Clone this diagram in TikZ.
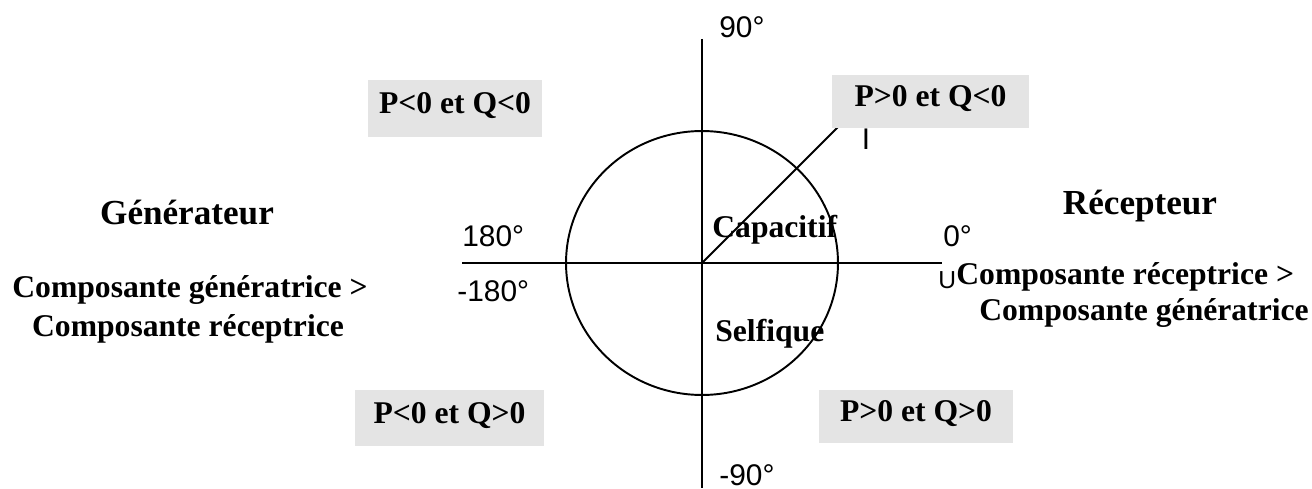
\documentclass[tikz,border=0pt]{standalone}
\usepackage{fontspec}
\setmainfont{Liberation Serif}
\setsansfont{Liberation Sans}
\usetikzlibrary{positioning}
\definecolor{quadgray}{gray}{0.895}

\begin{document}
\begin{tikzpicture}[x=0.02cm, y=-0.02cm,
    quad/.style={fill=quadgray, minimum height=1.1cm, inner sep=0pt,
                 font=\fontsize{18}{22}\selectfont\bfseries,
                 text height=0.42cm, text depth=0.2cm},
    side/.style={inner sep=0pt, anchor=base, font=\fontsize{18}{22}\selectfont\bfseries},
    title/.style={side, font=\fontsize{20}{24}\selectfont\bfseries},
    zone/.style={side, anchor=base west},
    deg/.style={inner sep=0pt, anchor=base west, font=\fontsize{17}{20}\sffamily},
    axe/.style={line width=1.1pt}
  ]
  \useasboundingbox (0,0) rectangle (1312,489);

  % axes et cercle
  \coordinate (O) at (702,263);
  \coordinate (W) at (462,263);
  \coordinate (E) at (942,263);
  \coordinate (N) at (702,39);
  \coordinate (S) at (702,488);
  \coordinate (Itip) at (840,125);
  \draw[axe] (W) -- (E);
  \draw[axe] (N) -- (S);
  \draw[axe] (O) ellipse [x radius=2.72cm, y radius=2.64cm];
  \draw[axe] (O) -- (Itip);

  % quadrants
  \node[quad, minimum width=3.48cm, minimum height=1.14cm] (pnqn) at (455,108.5) {P<0 et Q<0};
  \node[quad, minimum width=3.94cm, minimum height=1.06cm] (ppqn) at (930.5,101.5) {P>0 et Q<0};
  \node[quad, minimum width=3.78cm, minimum height=1.12cm] (pnqp) at (449.5,418) {P<0 et Q>0};
  \node[quad, minimum width=3.88cm, minimum height=1.06cm] (ppqp) at (916,416.5) {P>0 et Q>0};

  % angles
  \node[deg] (d90) at (719,38) {90°};
  \node[deg] (d180) at (462,247) {180°};
  \node[deg] (d0) at (943,247) {0°};
  \node[deg] (dm180) at (457,302) {-180°};
  \node[deg] (dm90) at (719,485) {-90°};
  \node[deg, font=\fontsize{14}{16}\sffamily] (u) at (938,289) {U};
  \node[deg, anchor=base] (i) at (866,150) {I};

  % zones
  \node[zone] (capa) at (712,238) {Capacitif};
  \node[zone] (self) at (715,342) {Selfique};

  % gauche
  \node[title] (gen) at (187,225) {Générateur};
  \node[side] (gl1) at (190,298) {Composante génératrice >};
  \node[side] (gl2) at (188,337) {Composante réceptrice};

  % droite
  \node[title] (rec) at (1140,215) {Récepteur};
  \node[zone] (rl1) at (956,285) {Composante réceptrice >};
  \node[side] (rl2) at (1144,321) {Composante génératrice};
\end{tikzpicture}
\end{document}
